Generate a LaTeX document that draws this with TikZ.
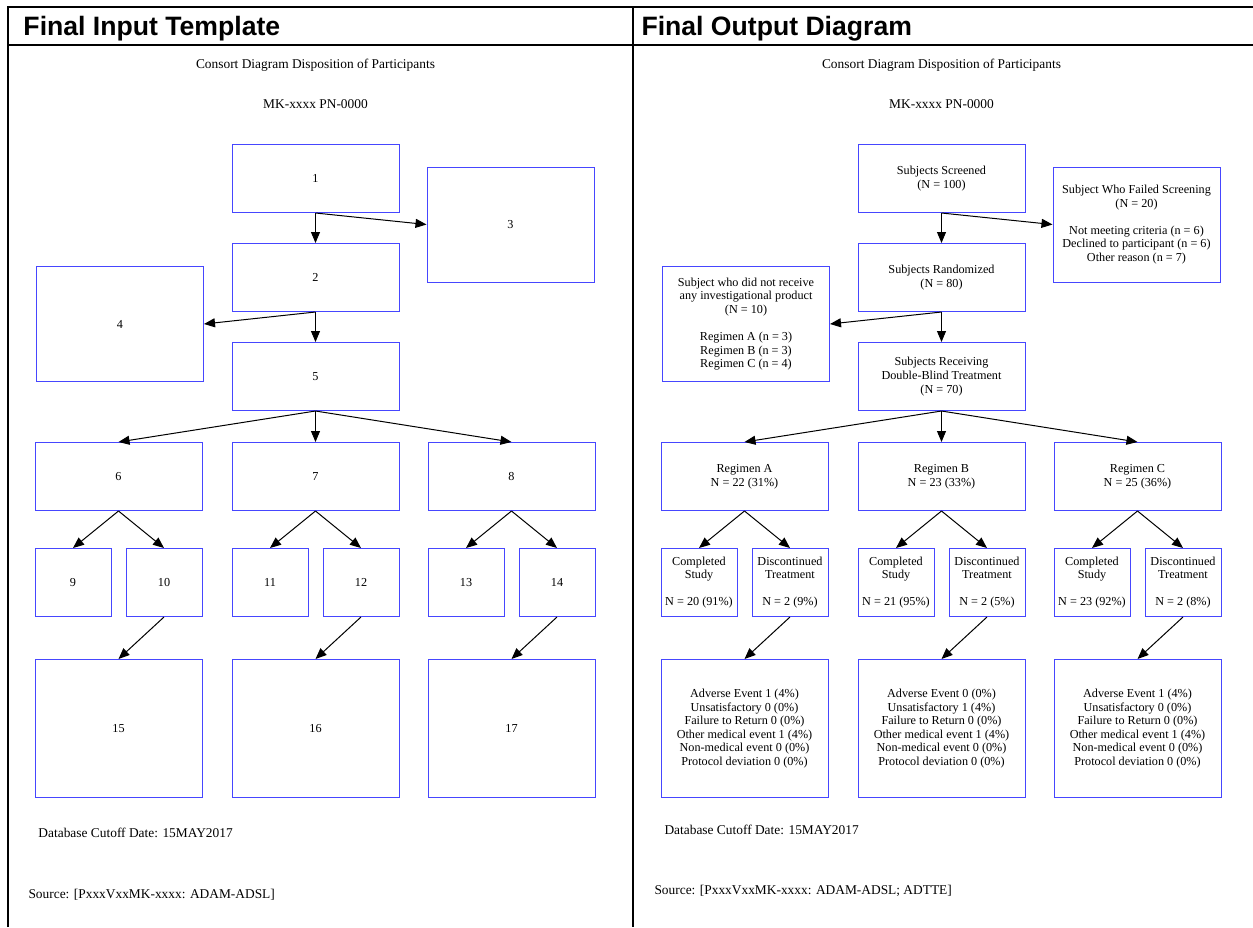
\documentclass[tikz,border=0pt]{standalone}
\usepackage{fontspec}
\setmainfont{Liberation Serif}
\newfontfamily\headfont{Liberation Sans}
\usetikzlibrary{arrows.meta, positioning}
\definecolor{boxblue}{RGB}{70,70,255}

\begin{document}
\begin{tikzpicture}[
            x = 0.5pt, y = -0.5pt, % one unit is one pixel, y grows down
            > = {Triangle[length=5.5pt, width=4.5pt]}, % arrow head style
            line width = 0.5pt % line style
        ]

        \tikzstyle{box}=[
            draw = boxblue,
            fill = white,
            minimum width = 83.5pt,
            minimum height = 34pt,
            inner sep = 1pt,
            align = center,
            font = \fontsize{6.1}{6.8}\selectfont
        ]
        \tikzstyle{tall box}=[box, minimum height = 57.5pt]
        \tikzstyle{small box}=[box, minimum width = 38pt]
        \tikzstyle{big box}=[box, minimum height = 69pt]
        \tikzstyle{caption}=[inner sep = 0pt, font = \fontsize{6.7}{8}\selectfont]
        \tikzstyle{heading}=[inner sep = 0pt, anchor = base west,
            font = \headfont\bfseries\fontsize{13.3}{16}\selectfont]

        \useasboundingbox (0,0) rectangle (1253,927);

        % frame
        \draw[line width = 1pt] (8,927) -- (8,7) -- (1253,7);
        \draw[line width = 1pt] (8,45) -- (1253,45);
        \draw[line width = 1pt] (633,7) -- (633,927);
        \node[heading] (lefthead) at (23,35) {Final Input Template};
        \node[heading] (righthead) at (641,35) {Final Output Diagram};

        % input template
        \node[caption] (atitle) at (315.5,65) {Consort Diagram Disposition of Participants};
        \node[caption] (astudy) at (315.5,104) {MK-xxxx PN-0000};

        \node[box] (a1) at (315.5,178.5) {1};
        \node[box] (a2) [below=15pt of a1] {2};
        \node[tall box] (a3) at (510.5,224.5) {3};
        \node[tall box] (a4) at (120,324) {4};
        \node[box] (a5) [below=15pt of a2] {5};
        \node[box] (a7) [below=15.5pt of a5] {7};
        \node[box] (a6) [left=14.5pt of a7] {6};
        \node[box] (a8) [right=14pt of a7] {8};
        \node[small box] (a9) [below=18.5pt of a6.south west, anchor=north west] {9};
        \node[small box] (a10) [below=18.5pt of a6.south east, anchor=north east] {10};
        \node[small box] (a11) [below=18.5pt of a7.south west, anchor=north west] {11};
        \node[small box] (a12) [below=18.5pt of a7.south east, anchor=north east] {12};
        \node[small box] (a13) [below=18.5pt of a8.south west, anchor=north west] {13};
        \node[small box] (a14) [below=18.5pt of a8.south east, anchor=north east] {14};
        \node[big box] (a15) [below=74pt of a6] {15};
        \node[big box] (a16) [below=74pt of a7] {16};
        \node[big box] (a17) [below=74pt of a8] {17};

        \node[caption, anchor=west] (acutoff) at (38,833) {Database Cutoff Date: 15MAY2017};
        \node[caption, anchor=west] (asource) at (28,895) {Source: [PxxxVxxMK-xxxx: ADAM-ADSL]};

        \path[->] (a1) edge (a2);
        \path[->] (a1.south) edge (a3.west);
        \path[->] (a2.south) edge (a4.east);
        \path[->] (a2) edge (a5);
        \path[->] (a5.south) edge (a6.north);
        \path[->] (a5) edge (a7);
        \path[->] (a5.south) edge (a8.north);
        \path[->] (a6.south) edge (a9.north);
        \path[->] (a6.south) edge (a10.north);
        \path[->] (a7.south) edge (a11.north);
        \path[->] (a7.south) edge (a12.north);
        \path[->] (a8.south) edge (a13.north);
        \path[->] (a8.south) edge (a14.north);
        \path[->] (a10.south) edge (a15.north);
        \path[->] (a12.south) edge (a16.north);
        \path[->] (a14.south) edge (a17.north);

        % output diagram
        \begin{scope}[xshift = 313pt]
        \node[caption] (btitle) at (315.5,65) {Consort Diagram Disposition of Participants};
        \node[caption] (bstudy) at (315.5,104) {MK-xxxx PN-0000};

        \node[box] (b1) at (315.5,178.5) {Subjects Screened\\(N = 100)};
        \node[box] (b2) [below=15pt of b1] {Subjects Randomized\\(N = 80)};
        \node[tall box] (b3) at (510.5,224.5) {Subject Who Failed Screening\\(N = 20)\\[6.8pt]
            Not meeting criteria (n = 6)\\Declined to participant (n = 6)\\Other reason (n = 7)};
        \node[tall box] (b4) at (120,324) {Subject who did not receive\\any investigational product\\(N = 10)\\[6.8pt]
            Regimen A (n = 3)\\Regimen B (n = 3)\\Regimen C (n = 4)};
        \node[box] (b5) [below=15pt of b2] {Subjects Receiving\\Double-Blind Treatment\\(N = 70)};
        \node[box] (b7) [below=15.5pt of b5] {Regimen B\\N = 23 (33\%)};
        \node[box] (b6) [left=14.5pt of b7] {Regimen A\\N = 22 (31\%)};
        \node[box] (b8) [right=14pt of b7] {Regimen C\\N = 25 (36\%)};
        \node[small box] (b9) [below=18.5pt of b6.south west, anchor=north west] {Completed\\Study\\[6.8pt]N = 20 (91\%)};
        \node[small box] (b10) [below=18.5pt of b6.south east, anchor=north east] {Discontinued\\Treatment\\[6.8pt]N = 2 (9\%)};
        \node[small box] (b11) [below=18.5pt of b7.south west, anchor=north west] {Completed\\Study\\[6.8pt]N = 21 (95\%)};
        \node[small box] (b12) [below=18.5pt of b7.south east, anchor=north east] {Discontinued\\Treatment\\[6.8pt]N = 2 (5\%)};
        \node[small box] (b13) [below=18.5pt of b8.south west, anchor=north west] {Completed\\Study\\[6.8pt]N = 23 (92\%)};
        \node[small box] (b14) [below=18.5pt of b8.south east, anchor=north east] {Discontinued\\Treatment\\[6.8pt]N = 2 (8\%)};
        \node[big box] (b15) [below=74pt of b6] {Adverse Event 1 (4\%)\\Unsatisfactory 0 (0\%)\\Failure to Return 0 (0\%)\\
            Other medical event 1 (4\%)\\Non-medical event 0 (0\%)\\Protocol deviation 0 (0\%)};
        \node[big box] (b16) [below=74pt of b7] {Adverse Event 0 (0\%)\\Unsatisfactory 1 (4\%)\\Failure to Return 0 (0\%)\\
            Other medical event 1 (4\%)\\Non-medical event 0 (0\%)\\Protocol deviation 0 (0\%)};
        \node[big box] (b17) [below=74pt of b8] {Adverse Event 1 (4\%)\\Unsatisfactory 0 (0\%)\\Failure to Return 0 (0\%)\\
            Other medical event 1 (4\%)\\Non-medical event 0 (0\%)\\Protocol deviation 0 (0\%)};

        \node[caption, anchor=west] (bcutoff) at (38,830) {Database Cutoff Date: 15MAY2017};
        \node[caption, anchor=west] (bsource) at (28,891) {Source: [PxxxVxxMK-xxxx: ADAM-ADSL; ADTTE]};

        \path[->] (b1) edge (b2);
        \path[->] (b1.south) edge (b3.west);
        \path[->] (b2.south) edge (b4.east);
        \path[->] (b2) edge (b5);
        \path[->] (b5.south) edge (b6.north);
        \path[->] (b5) edge (b7);
        \path[->] (b5.south) edge (b8.north);
        \path[->] (b6.south) edge (b9.north);
        \path[->] (b6.south) edge (b10.north);
        \path[->] (b7.south) edge (b11.north);
        \path[->] (b7.south) edge (b12.north);
        \path[->] (b8.south) edge (b13.north);
        \path[->] (b8.south) edge (b14.north);
        \path[->] (b10.south) edge (b15.north);
        \path[->] (b12.south) edge (b16.north);
        \path[->] (b14.south) edge (b17.north);
        \end{scope}
    \end{tikzpicture}
\end{document}
